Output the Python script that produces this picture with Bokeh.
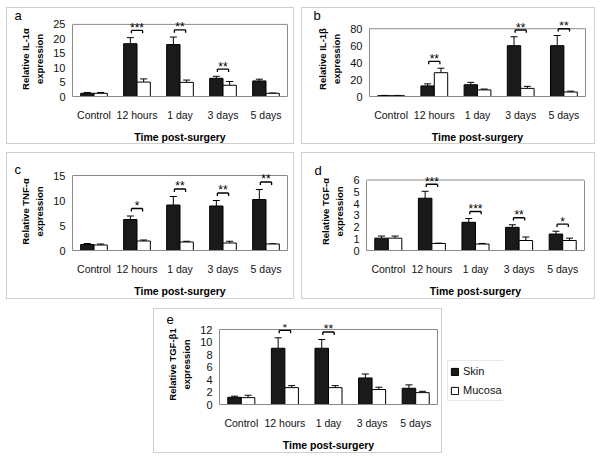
from bokeh.plotting import figure
from bokeh.models import (ColumnDataSource, FactorRange, Range1d, FixedTicker, Whisker,
                          TeeHead, Label, Legend, LegendItem, Spacer, LinearAxis)
from bokeh.layouts import row, column
from bokeh.transform import dodge
from bokeh.core.properties import value
from bokeh.embed import file_html
from bokeh.resources import INLINE

# ---------------- data ----------------
categories = ["Control", "12 hours", "1 day", "3 days", "5 days"]

il1a_skin = [1.1, 18.3, 18.0, 6.3, 5.4]
il1a_skin_err = [0.3, 2.1, 2.6, 0.7, 0.6]
il1a_mucosa = [1.1, 5.0, 4.9, 3.9, 1.1]
il1a_mucosa_err = [0.3, 1.1, 0.8, 1.3, 0.1]
il1a_stars = ["", "***", "**", "**", ""]

il1b_skin = [1.0, 12.5, 13.9, 60.0, 60.0]
il1b_skin_err = [0.3, 2.4, 2.8, 10.5, 12.0]
il1b_mucosa = [1.0, 28.1, 7.8, 9.6, 5.3]
il1b_mucosa_err = [0.3, 5.3, 1.0, 2.4, 1.0]
il1b_stars = ["", "**", "", "**", "**"]

tnfa_skin = [1.2, 6.2, 9.1, 8.9, 10.2]
tnfa_skin_err = [0.2, 0.7, 1.7, 1.1, 2.0]
tnfa_mucosa = [1.1, 1.9, 1.7, 1.5, 1.3]
tnfa_mucosa_err = [0.2, 0.2, 0.15, 0.35, 0.05]
tnfa_stars = ["", "*", "**", "**", "**"]

tgfa_skin = [1.05, 4.45, 2.4, 1.97, 1.4]
tgfa_skin_err = [0.18, 0.59, 0.32, 0.22, 0.24]
tgfa_mucosa = [1.05, 0.6, 0.55, 0.85, 0.85]
tgfa_mucosa_err = [0.18, 0.02, 0.05, 0.3, 0.2]
tgfa_stars = ["", "***", "***", "**", "*"]

tgfb1_skin = [1.15, 9.0, 9.0, 4.25, 2.6]
tgfb1_skin_err = [0.18, 1.67, 1.4, 0.63, 0.54]
tgfb1_mucosa = [1.1, 2.7, 2.7, 2.4, 1.9]
tgfb1_mucosa_err = [0.38, 0.32, 0.32, 0.37, 0.21]
tgfb1_stars = ["", "*", "**", "", ""]

y_ticks_a = [0, 5, 10, 15, 20, 25]
y_ticks_b = [0, 20, 40, 60, 80]
y_ticks_c = [0, 5, 10, 15]
y_ticks_d = [0, 1, 2, 3, 4, 5, 6]
y_ticks_e = [0, 2, 4, 6, 8, 10, 12]

series_names = ["Skin", "Mucosa"]
x_title = "Time post-surgery"
y_line2 = "expression"

# ---------------- style ----------------
FONT = "Liberation Sans"
SKIN_COLOR = "#1a1a1a"
FRAME_COLOR = "#8a8a8a"
BOX_COLOR = "#cfcfcf"
OFF = 0.155
BW = 0.31
YLAB_SIZE = "9.5px"


def make_panel(letter, ylabel1, skin, skin_err, muc, muc_err, stars, yticks,
               width, height, mbl, mbr, box_top, mbb, top_pad, letter_x, letter_base):
    ymax = yticks[-1]
    mbt = box_top - top_pad
    frame_h = height - mbt - mbb
    box_h = frame_h - top_pad
    y_end = ymax * frame_h / box_h
    p = figure(x_range=FactorRange(*categories), y_range=Range1d(0, y_end),
               width=width, height=height, output_backend="svg",
               toolbar_location=None, min_border_left=mbl, min_border_right=mbr,
               min_border_top=mbt, min_border_bottom=mbb,
               styles={"border": "1px solid " + BOX_COLOR})
    p.xgrid.visible = False
    p.ygrid.visible = False
    p.outline_line_color = None
    p.background_fill_color = "white"
    p.border_fill_color = "white"

    skin_hi = [s + e for s, e in zip(skin, skin_err)]
    muc_hi = [m + e for m, e in zip(muc, muc_err)]
    src = ColumnDataSource(dict(cat=categories, skin=skin, skin_hi=skin_hi,
                                muc=muc, muc_hi=muc_hi))

    # plot-area box: top edge (left/bottom/right edges are axis lines)
    bsrc_box = ColumnDataSource(dict(c0=[categories[0]], c1=[categories[-1]], y=[ymax]))
    p.segment(x0=dodge("c0", -0.5, range=p.x_range), x1=dodge("c1", 0.5, range=p.x_range),
              y0="y", y1="y", source=bsrc_box, line_color=FRAME_COLOR, line_width=1)

    p.vbar(x=dodge("cat", -OFF, range=p.x_range), top="skin", width=BW,
           source=src, fill_color=SKIN_COLOR, line_color="black", line_width=1)
    p.vbar(x=dodge("cat", OFF, range=p.x_range), top="muc", width=BW,
           source=src, fill_color="white", line_color="black", line_width=1)

    for lo, hi, off in (("skin", "skin_hi", -OFF), ("muc", "muc_hi", OFF)):
        w = Whisker(base=dodge("cat", off, range=p.x_range), lower=lo, upper=hi,
                    source=src, line_color="black", line_width=1,
                    upper_head=TeeHead(size=7, line_color="black", line_width=1),
                    lower_head=None)
        p.add_layout(w)

    # significance brackets
    bcat, by, bt, sy, st = [], [], [], [], []
    for c, s, m, star in zip(categories, skin_hi, muc_hi, stars):
        if star:
            b = max(s, m) + 0.1 * ymax
            bcat.append(c)
            by.append(b)
            bt.append(b - 0.04 * ymax)
            sy.append(b + 0.035 * ymax)
            st.append(star)
    bsrc = ColumnDataSource(dict(cat=bcat, b=by, bt=bt, sy=sy, stars=st))
    bo = 0.13
    for xa0, xa1, yb in ((-bo, bo, "b"), (-bo, -bo, "bt"), (bo, bo, "bt")):
        p.segment(x0=dodge("cat", xa0, range=p.x_range), y0="b",
                  x1=dodge("cat", xa1, range=p.x_range), y1=yb,
                  source=bsrc, line_color="black", line_width=1.3)
    p.text(x="cat", y="sy", text="stars", source=bsrc, text_align="center",
           text_baseline="middle", text_font=value(FONT),
           text_font_size="12px", text_color="black")

    # axes
    xa = p.xaxis[0]
    xa.axis_label = x_title
    xa.axis_label_text_font = FONT
    xa.axis_label_text_font_style = "bold"
    xa.axis_label_text_font_size = "10.5px"
    xa.axis_label_text_color = "black"
    xa.axis_label_standoff = 7
    xa.major_label_text_font = FONT
    xa.major_label_text_font_size = "10.5px"
    xa.major_label_text_color = "#111111"
    xa.major_label_standoff = 12
    xa.major_tick_line_color = None
    xa.major_tick_out = 0
    xa.major_tick_in = 0
    xa.axis_line_color = FRAME_COLOR

    ya = p.yaxis[0]
    ya.ticker = FixedTicker(ticks=yticks)
    ya.bounds = (0, ymax)
    ya.axis_label = y_line2
    ya.axis_label_text_font = FONT
    ya.axis_label_text_font_style = "bold"
    ya.axis_label_text_font_size = YLAB_SIZE
    ya.axis_label_text_color = "black"
    ya.axis_label_standoff = 5
    ya.major_label_text_font = FONT
    ya.major_label_text_font_size = "11px"
    ya.major_label_text_color = "#111111"
    ya.major_label_standoff = 7
    ya.major_tick_line_color = None
    ya.minor_tick_line_color = None
    ya.major_tick_out = 0
    ya.major_tick_in = 0
    ya.minor_tick_out = 0
    ya.minor_tick_in = 0
    ya.axis_line_color = FRAME_COLOR

    ya2 = LinearAxis(ticker=FixedTicker(ticks=[]), axis_label=ylabel1,
                     axis_label_text_font=FONT, axis_label_text_font_style="bold",
                     axis_label_text_font_size=YLAB_SIZE, axis_label_text_color="black",
                     axis_label_standoff=1, major_label_standoff=0,
                     major_tick_out=0, major_tick_in=0, minor_tick_out=0, minor_tick_in=0,
                     major_tick_line_color=None, minor_tick_line_color=None,
                     axis_line_color=None)
    p.add_layout(ya2, "left")

    yr = LinearAxis(ticker=FixedTicker(ticks=[]), bounds=(0, ymax),
                    major_label_standoff=0, major_tick_out=0, major_tick_in=0,
                    minor_tick_out=0, minor_tick_in=0, major_tick_line_color=None,
                    minor_tick_line_color=None, axis_line_color=FRAME_COLOR)
    p.add_layout(yr, "right")

    lab = Label(x=letter_x, y=frame_h + (mbt - letter_base), x_units="screen",
                y_units="screen", text=letter, text_font=FONT, text_font_size="13px",
                text_baseline="alphabetic", text_color="black")
    p.add_layout(lab, "left")
    return p


pa = make_panel("a", "Relative IL-1α", il1a_skin, il1a_skin_err,
                il1a_mucosa, il1a_mucosa_err, il1a_stars, y_ticks_a,
                288, 137, 65, 8, 16, 46, 3, 5, 10)
pb = make_panel("b", "Relative IL-1β", il1b_skin, il1b_skin_err,
                il1b_mucosa, il1b_mucosa_err, il1b_stars, y_ticks_b,
                294, 137, 67, 11, 16, 46, 8, 7, 10)
pc = make_panel("c", "Relative TNF-α", tnfa_skin, tnfa_skin_err,
                tnfa_mucosa, tnfa_mucosa_err, tnfa_stars, y_ticks_c,
                288, 147, 65, 8, 22, 50, 3, 5, 16)
pd = make_panel("d", "Relative TGF-α", tgfa_skin, tgfa_skin_err,
                tgfa_mucosa, tgfa_mucosa_err, tgfa_stars, y_ticks_d,
                294, 147, 64, 12, 22, 50, 8, 5, 17)
pe = make_panel("e", "Relative TGF-β1", tgfb1_skin, tgfb1_skin_err,
                tgfb1_mucosa, tgfb1_mucosa_err, tgfb1_stars, y_ticks_e,
                289, 145, 65, 6, 20, 50, 5, 10, 10)

# legend panel
pl = figure(width=56, height=41, output_backend="svg", toolbar_location=None,
            min_border=0, x_axis_location=None, y_axis_location=None,
            x_range=Range1d(0, 1), y_range=Range1d(0, 1))
pl.outline_line_color = None
pl.xgrid.visible = False
pl.ygrid.visible = False
r_skin = pl.vbar(x=[5], top=[1], width=0.5, fill_color=SKIN_COLOR, line_color="black")
r_muc = pl.vbar(x=[5], top=[1], width=0.5, fill_color="white", line_color="black")
legend = Legend(items=[LegendItem(label=series_names[0], renderers=[r_skin]),
                       LegendItem(label=series_names[1], renderers=[r_muc])],
                location="top_left", margin=0, padding=2, spacing=3,
                label_height=16, glyph_width=9, glyph_height=9, label_standoff=4,
                border_line_color=BOX_COLOR, label_text_font=FONT,
                label_text_font_size="11px", label_text_color="#111111")
pl.add_layout(legend)

row1 = row(Spacer(width=6, height=1), pa, Spacer(width=7, height=1), pb)
row2 = row(Spacer(width=6, height=1), pc, Spacer(width=7, height=1), pd)
row3 = row(Spacer(width=153, height=1), pe, Spacer(width=5, height=1),
           column(Spacer(width=56, height=52), pl))
layout = column(Spacer(width=1, height=7), row1, Spacer(width=1, height=8), row2,
                Spacer(width=1, height=9), row3)

open("out.html", "w").write(file_html(layout, INLINE))
